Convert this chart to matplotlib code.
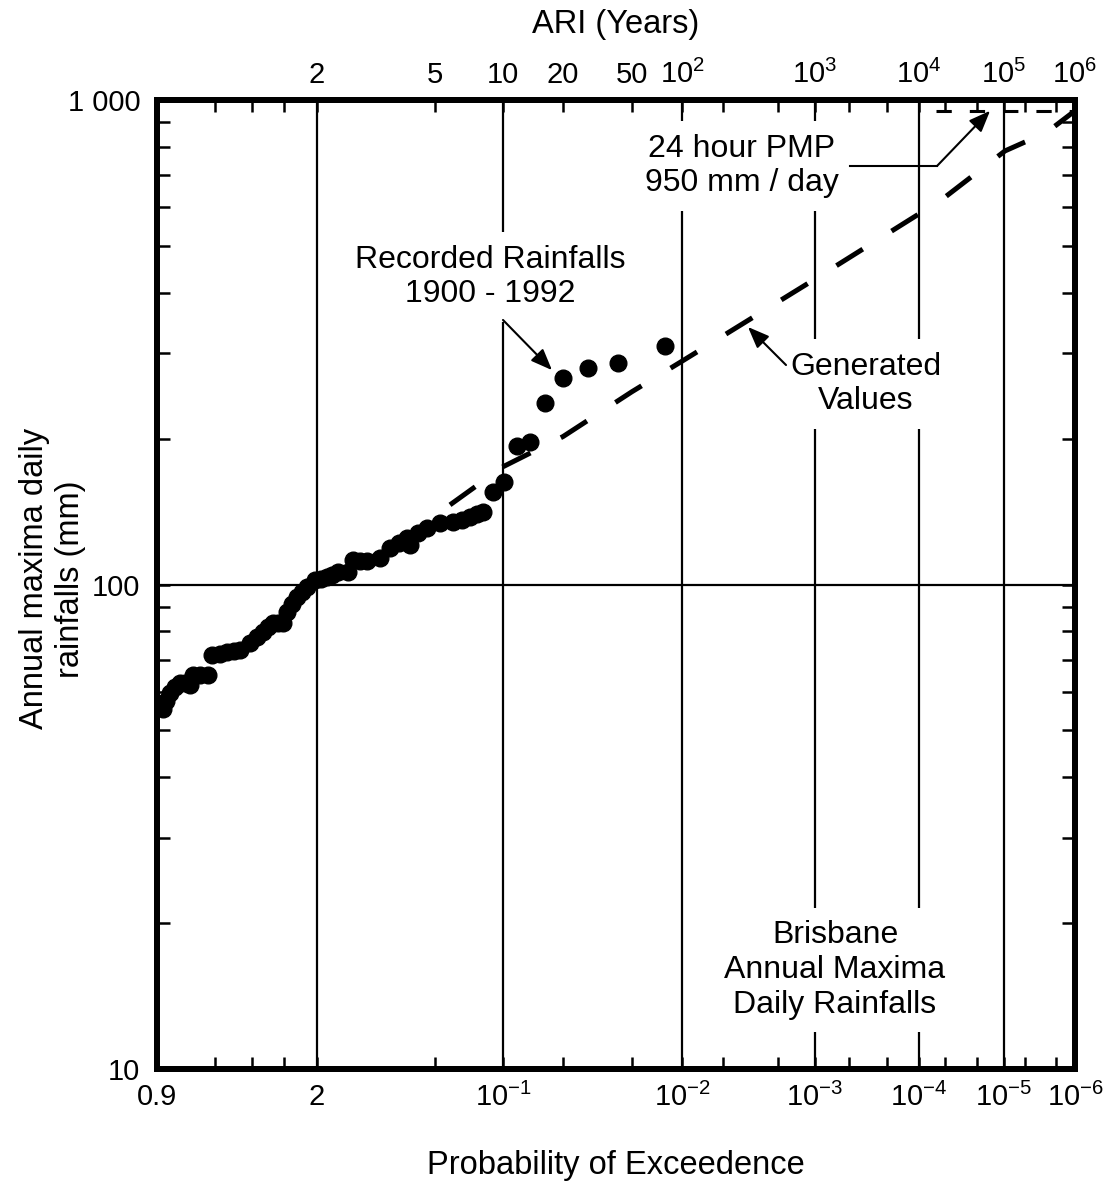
"""Brisbane annual maxima daily rainfall on probability paper"""
import numpy as np
import matplotlib
matplotlib.use('Agg')
import matplotlib.pyplot as plt
from matplotlib.ticker import LogLocator, NullFormatter, FixedLocator, FixedFormatter

plt.rcParams['font.family'] = ['Liberation Sans', 'DejaVu Sans']
plt.rcParams['mathtext.fontset'] = 'custom'
plt.rcParams['mathtext.rm'] = 'Liberation Sans'
plt.rcParams['mathtext.it'] = 'Liberation Sans:italic'
plt.rcParams['mathtext.bf'] = 'Liberation Sans:bold'

# recorded annual maxima 1900 - 1992 (exceedance probability, mm)
rec_prob = [0.890, 0.884, 0.877, 0.868, 0.859, 0.850, 0.842, 0.837, 0.824, 0.811,
            0.805, 0.785, 0.766, 0.748, 0.731, 0.705, 0.685, 0.664, 0.648, 0.633,
            0.618, 0.603, 0.590, 0.574, 0.558, 0.543, 0.528, 0.506, 0.485, 0.463,
            0.444, 0.425, 0.393, 0.378, 0.358, 0.339, 0.306, 0.284, 0.265, 0.248,
            0.243, 0.228, 0.213, 0.190, 0.166, 0.152, 0.140, 0.130, 0.123,
            0.111, 0.0988, 0.0851, 0.0732, 0.0616, 0.0500, 0.0359, 0.0241, 0.0127]
rec_mm = [55.3, 57.5, 59.7, 61.5, 62.6, 62.5, 62.1, 65.1, 65.0, 65.0,
          71.5, 72.0, 72.6, 73.0, 73.3, 75.8, 77.8, 79.9, 81.8, 83.4,
          83.4, 83.4, 87.8, 91.0, 94.2, 96.6, 98.7, 102.2, 102.8, 103.6,
          104.8, 105.9, 106.0, 112.2, 112.0, 112.0, 113.5, 118.9, 121.8, 124.8,
          120.6, 127.5, 130.7, 133.8, 134.4, 136.0, 137.6, 139.5, 141.0,
          155.2, 162.8, 193.2, 196.8, 236.9, 266.8, 279.8, 286.5, 310.7]

# generated values
gen_prob = [0.1716, 0.1, 0.05, 0.02, 0.01, 1e-3, 1e-4, 5.7e-5, 9.7e-6, 5e-6, 2.8e-6, 1e-6]
gen_mm = [146, 175, 202, 250, 289, 427, 582, 619, 785, 819, 851, 950]

# 24 hour PMP
pmp_prob = [6.3e-5, 1e-6]
pmp_mm = [950, 950]

# probability paper: probabilities and their place along the axis (0 - 1)
paper_prob = [0.9, 0.8, 0.7, 0.6, 0.5, 0.2, 0.1, 0.05, 0.02, 0.01, 0.005, 0.002,
              1e-3, 5e-4, 2e-4, 1e-4, 5e-5, 2e-5, 1e-5, 5e-6, 2e-6, 1e-6]
paper_pos = [0.0, 0.0632, 0.1035, 0.1383, 0.1743, 0.3028, 0.3769, 0.4423, 0.5174,
             0.5719, 0.6166, 0.6765, 0.7168, 0.7538, 0.7952, 0.8301, 0.8584,
             0.8932, 0.9227, 0.9455, 0.9793, 1.0]
paper_L = -np.log10(paper_prob)

bottom_labels = {0.9: '0.9', 0.5: '2', 0.1: r'$\mathregular{10^{-1}}$',
                 0.01: r'$\mathregular{10^{-2}}$', 1e-3: r'$\mathregular{10^{-3}}$',
                 1e-4: r'$\mathregular{10^{-4}}$', 1e-5: r'$\mathregular{10^{-5}}$',
                 1e-6: r'$\mathregular{10^{-6}}$'}
top_labels = {0.5: '2', 0.2: '5', 0.1: '10', 0.05: '20', 0.02: '50',
              0.01: r'$\mathregular{10^{2}}$', 1e-3: r'$\mathregular{10^{3}}$',
              1e-4: r'$\mathregular{10^{4}}$', 1e-5: r'$\mathregular{10^{5}}$',
              1e-6: r'$\mathregular{10^{6}}$'}
grid_prob = [0.5, 0.1, 0.01, 1e-3, 1e-4, 1e-5]


# scale value grows with probability, so the axis runs 0.9 -> 1e-6 left to right
def to_paper(p):
    p = np.clip(np.asarray(p, dtype=float), 1e-12, None)
    return -np.interp(-np.log10(p), paper_L, paper_pos)


def from_paper(x):
    return 10 ** (-np.interp(-np.asarray(x, dtype=float), paper_pos, paper_L))


def prob_axis(axis, labels):
    axis.set_xscale('function', functions=(to_paper, from_paper))
    axis.set_xlim(paper_prob[0], paper_prob[-1])
    axis.xaxis.set_major_locator(FixedLocator(paper_prob))
    axis.xaxis.set_major_formatter(
        FixedFormatter([labels.get(p, '') for p in paper_prob]))
    axis.xaxis.set_minor_locator(FixedLocator([]))


fig = plt.figure(figsize=(11.12, 11.86), dpi=100)
ax = fig.add_axes([157 / 1112, 1 - 1069 / 1186, 918 / 1112, 969 / 1186])

ax.set_yscale('log')
ax.set_ylim(10, 1000)
ax.yaxis.set_major_locator(FixedLocator([10, 100, 1000]))
ax.yaxis.set_major_formatter(FixedFormatter(['10', '100', '1 000']))
ax.yaxis.set_minor_locator(LogLocator(base=10, subs=np.arange(2, 10)))
ax.yaxis.set_minor_formatter(NullFormatter())
prob_axis(ax, bottom_labels)

ax2 = ax.twiny()
prob_axis(ax2, top_labels)

for a in (ax, ax2):
    for s in a.spines.values():
        s.set_linewidth(4.3)
ax.tick_params(axis='x', which='both', direction='in', length=8.6, width=1.8,
               bottom=True, top=False, labelsize=21, pad=10)
ax.tick_params(axis='y', which='both', direction='in', length=9.5, width=1.8,
               left=True, right=True, labelsize=21, pad=12)
ax2.tick_params(axis='x', which='both', direction='in', length=8.6, width=1.8,
                labelsize=21, pad=8)

# grid
for p in grid_prob:
    ax.axvline(p, color='black', lw=1.6, zorder=1)
ax.axhline(100, color='black', lw=1.6, zorder=1)

# curves and points
ax.plot(gen_prob, gen_mm, color='black', lw=3.6, linestyle=(0, (6.2, 6.8)),
        dash_capstyle='butt', zorder=2)
ax.plot(pmp_prob, pmp_mm, color='black', lw=2.2, linestyle=(0, (5, 5.9)),
        dash_capstyle='butt', zorder=2)
ax.plot(rec_prob, rec_mm, 'o', color='black', ms=12, zorder=2.5)

# annotations
box = dict(boxstyle='square,pad=0.4', fc='white', ec='none')
arrow = dict(arrowstyle='-|>,head_length=0.5,head_width=0.2', color='black',
             lw=1.5, mutation_scale=26, shrinkA=0, shrinkB=0)
fs = 23

ax.text(0.3627, 0.8173, 'Recorded Rainfalls\n1900 - 1992', transform=ax.transAxes,
        ha='center', va='center', fontsize=fs, bbox=box, zorder=3)
ax.annotate('', xy=(0.0568, 277), xycoords='data',
            xytext=(0.3769, 0.7730), textcoords='axes fraction', arrowprops=arrow)

ax.text(0.7723, 0.7069, 'Generated\nValues', transform=ax.transAxes,
        ha='center', va='center', fontsize=fs, bbox=box, zorder=3)
ax.annotate('', xy=(3.3e-3, 340), xycoords='data',
            xytext=(0.6852, 0.7265), textcoords='axes fraction', arrowprops=arrow)

ax.text(0.637, 0.932, '24 hour PMP\n950 mm / day', transform=ax.transAxes,
        ha='center', va='center', fontsize=fs, bbox=box, zorder=3)
ax.plot([0.7549, 0.8497], [0.9319, 0.9319], color='black', lw=1.5,
        transform=ax.transAxes, zorder=3)
ax.annotate('', xy=(1.43e-5, 950), xycoords='data',
            xytext=(0.8497, 0.9319), textcoords='axes fraction', arrowprops=arrow)

ax.text(0.7386, 0.1022, 'Brisbane\nAnnual Maxima\nDaily Rainfalls',
        transform=ax.transAxes, ha='center', va='center', fontsize=fs,
        bbox=box, zorder=3)

fig.text(0.554, 0.979, 'ARI (Years)', ha='center', va='center', fontsize=23.5)
fig.text(0.554, 0.0177, 'Probability of Exceedence', ha='center', va='center',
         fontsize=23.5)
fig.text(0.047, 0.512, 'Annual maxima daily\nrainfalls (mm)', rotation=90,
         ha='center', va='center', multialignment='center', fontsize=23.5)

fig.savefig('out.png', dpi=100)
